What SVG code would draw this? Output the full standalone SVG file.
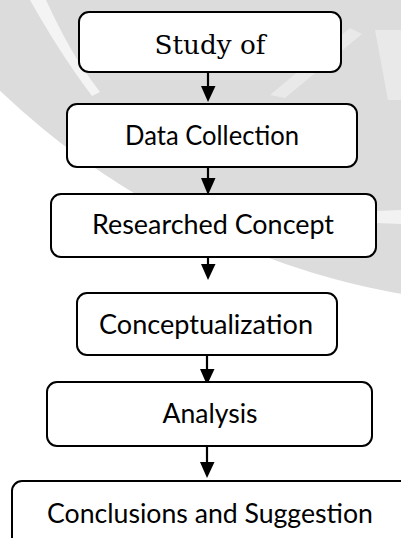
<svg xmlns="http://www.w3.org/2000/svg" width="401" height="538" viewBox="0 0 401 538">
<style>
.box{fill:#fff;stroke:#000;stroke-width:2}
.lbl{font-family:Lato,"Liberation Sans",sans-serif;font-size:27px;fill:#000;text-anchor:middle}
.ser{font-family:"DejaVu Serif","Liberation Serif",serif;font-size:26px;fill:#000;text-anchor:middle}
.ln{stroke:#000;stroke-width:2.2;fill:none}
.hd{fill:#000}
</style>
<g id="watermark">
<rect x="0" y="0" width="401" height="538" fill="#fff"/>
<circle cx="538" cy="-474" r="780" fill="#dcdcdc"/>
<path d="M30,0 L46,0 C60,30 75,60 100,92 L92,96 C68,64 48,32 30,0 Z" fill="#f4f4f4"/>
<path d="M270,95 L350,28 L362,34 L285,98 Z" fill="#e9e9e9"/>
<path d="M375,30 L401,30 L401,100 L388,100 Z" fill="#e9e9e9"/>
<path d="M350,212 L401,210 L401,224 L352,222 Z" fill="#f2f2f2"/>
</g>
<g id="connectors">
<line class="ln" x1="208" y1="72" x2="208" y2="88"/><polygon class="hd" points="201,86 215.5,86 208,102"/>
<line class="ln" x1="208" y1="167" x2="208" y2="180"/><polygon class="hd" points="201,178 215.5,178 208,195"/>
<line class="ln" x1="208" y1="257" x2="208" y2="266"/><polygon class="hd" points="201,264 215.5,264 208,280"/>
<line class="ln" x1="207" y1="355" x2="207" y2="371"/><polygon class="hd" points="200,369 214.5,369 207,385"/>
<line class="ln" x1="207" y1="446" x2="207" y2="463"/><polygon class="hd" points="200,462 214.5,462 207,478"/>
</g>
<g id="n1"><rect class="box" x="79" y="12" width="262" height="60" rx="10"/><text class="ser" x="210" y="54" textLength="111" lengthAdjust="spacingAndGlyphs">Study of</text></g>
<g id="n2"><rect class="box" x="67" y="104" width="290" height="63" rx="10"/><text class="lbl" x="212" y="145" textLength="174" lengthAdjust="spacingAndGlyphs">Data Collection</text></g>
<g id="n3"><rect class="box" x="51" y="194" width="325" height="63" rx="10"/><text class="lbl" x="213" y="234" textLength="242" lengthAdjust="spacingAndGlyphs">Researched Concept</text></g>
<g id="n4"><rect class="box" x="77" y="293" width="260" height="62" rx="10"/><text class="lbl" x="206" y="334" textLength="214" lengthAdjust="spacingAndGlyphs">Conceptualization</text></g>
<g id="n5"><rect class="box" x="47" y="382" width="325" height="64" rx="10"/><text class="lbl" x="210" y="423" textLength="95" lengthAdjust="spacingAndGlyphs">Analysis</text></g>
<g id="n6"><rect class="box" x="12" y="481" width="410" height="80" rx="10"/><text class="lbl" x="210" y="523" textLength="326" lengthAdjust="spacingAndGlyphs">Conclusions and Suggestion</text></g>
</svg>
